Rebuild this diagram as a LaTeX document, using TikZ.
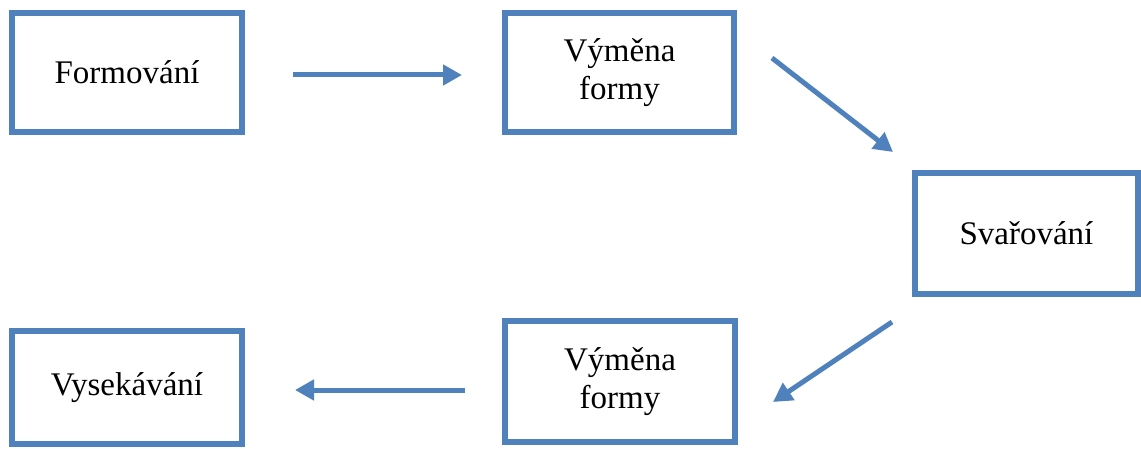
\documentclass[tikz,border=0pt]{standalone}
\usepackage{fontspec}
\setmainfont{Liberation Serif}
\usetikzlibrary{arrows.meta}
\definecolor{flowblue}{RGB}{79,129,189}
\begin{document}
\begin{tikzpicture}[x=1pt,y=1pt,
  stepbox/.style={draw=flowblue, line width=6.5pt, fill=white, inner sep=0pt, outer sep=0pt,
    align=center, font=\fontsize{33}{38}\selectfont},
  flow/.style={draw=flowblue, line width=5pt, -{Triangle[length=19pt,width=20pt]}}]
  \useasboundingbox (0,0) rectangle (1141,448);
  % process steps
  \node[stepbox, minimum width=230pt, minimum height=119pt] (form) at (127,375.5) {Formování};
  \node[stepbox, minimum width=229pt, minimum height=119pt] (swap1) at (619.5,375.5) {Výměna\\formy};
  \node[stepbox, minimum width=223pt, minimum height=121pt] (weld) at (1026.5,214.5) {Svařování};
  \node[stepbox, minimum width=230pt, minimum height=121pt] (swap2) at (620,66.5) {Výměna\\formy};
  \node[stepbox, minimum width=230pt, minimum height=113pt] (cut) at (127,60.5) {Vysekávání};
  % arrow end points
  \coordinate (a1s) at (293,373);
  \coordinate (a1e) at (462,373);
  \coordinate (a2s) at (772,390);
  \coordinate (a2e) at (893,296);
  \coordinate (a3s) at (892,126);
  \coordinate (a3e) at (773,46);
  \coordinate (a4s) at (465,58);
  \coordinate (a4e) at (295,58);
  % flow arrows
  \draw[flow] (a1s) -- (a1e);
  \draw[flow] (a2s) -- (a2e);
  \draw[flow] (a3s) -- (a3e);
  \draw[flow] (a4s) -- (a4e);
\end{tikzpicture}
\end{document}
